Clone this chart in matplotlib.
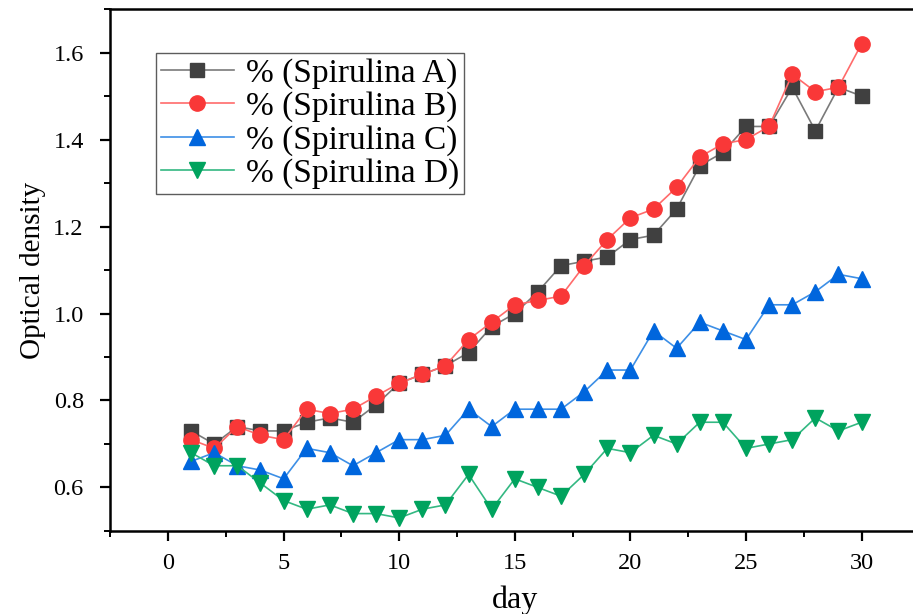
import numpy as np
import matplotlib.pyplot as plt
from matplotlib.ticker import MultipleLocator

plt.rcParams['font.family'] = ['Liberation Serif', 'DejaVu Serif']

days = np.arange(1, 31)

# optical density
spir_a = [0.73, 0.70, 0.74, 0.73, 0.73, 0.75, 0.76, 0.75, 0.79, 0.84,
          0.86, 0.88, 0.91, 0.97, 1.00, 1.05, 1.11, 1.12, 1.13, 1.17,
          1.18, 1.24, 1.34, 1.37, 1.43, 1.43, 1.52, 1.42, 1.52, 1.50]
spir_b = [0.71, 0.69, 0.74, 0.72, 0.71, 0.78, 0.77, 0.78, 0.81, 0.84,
          0.86, 0.88, 0.94, 0.98, 1.02, 1.03, 1.04, 1.11, 1.17, 1.22,
          1.24, 1.29, 1.36, 1.39, 1.40, 1.43, 1.55, 1.51, 1.52, 1.62]
spir_c = [0.66, 0.68, 0.65, 0.64, 0.62, 0.69, 0.68, 0.65, 0.68, 0.71,
          0.71, 0.72, 0.78, 0.74, 0.78, 0.78, 0.78, 0.82, 0.87, 0.87,
          0.96, 0.92, 0.98, 0.96, 0.94, 1.02, 1.02, 1.05, 1.09, 1.08]
spir_d = [0.68, 0.65, 0.65, 0.61, 0.57, 0.55, 0.56, 0.54, 0.54, 0.53,
          0.55, 0.56, 0.63, 0.55, 0.62, 0.60, 0.58, 0.63, 0.69, 0.68,
          0.72, 0.70, 0.75, 0.75, 0.69, 0.70, 0.71, 0.76, 0.73, 0.75]

labels = ['% (Spirulina A)', '% (Spirulina B)', '% (Spirulina C)', '% (Spirulina D)']

fig = plt.figure(figsize=(9.13, 6.14), dpi=100)
ax = fig.add_axes([0.1207, 0.1352, 0.8863, 0.8501])

# marker colour / line colour / marker / size
ax.plot(days, spir_a, '-', color='#7a7a7a', lw=1.2, marker='s', ms=9.5,
        mfc='#404040', mec='#404040', label=labels[0])
ax.plot(days, spir_b, '-', color='#ff6b6b', lw=1.2, marker='o', ms=11,
        mfc='#f93838', mec='#f93838', label=labels[1])
ax.plot(days, spir_c, '-', color='#3d8fe6', lw=1.2, marker='^', ms=12,
        mfc='#0066dd', mec='#0066dd', label=labels[2])
ax.plot(days, spir_d, '-', color='#33b882', lw=1.2, marker='v', ms=12,
        mfc='#00a35e', mec='#00a35e', label=labels[3])

ax.set_xlim(-2.5, 32.5)
ax.set_ylim(0.5, 1.7)
ax.xaxis.set_major_locator(MultipleLocator(5))
ax.xaxis.set_minor_locator(MultipleLocator(2.5))
ax.yaxis.set_minor_locator(MultipleLocator(0.1))
ax.set_yticks([0.6, 0.8, 1.0, 1.2, 1.4, 1.6])
ax.set_yticklabels(['0.6', '0.8', '1.0', '1.2', '1.4', '1.6'])

ax.tick_params(which='major', direction='out', length=7, width=1.6,
               labelsize=17.5)
ax.tick_params(axis='y', which='major', pad=12)
ax.tick_params(axis='x', which='major', pad=9)
ax.tick_params(which='minor', direction='out', length=4, width=1.4)
for s in ax.spines.values():
    s.set_linewidth(1.8)

ax.set_xlabel('day', fontsize=23, labelpad=8)
ax.set_ylabel('Optical density', fontsize=21, labelpad=5)

leg = ax.legend(loc='upper left', bbox_to_anchor=(0.056, 0.916), fontsize=24,
                frameon=True, fancybox=False, handlelength=2.2,
                borderpad=0.15, labelspacing=0.08, handletextpad=0.35,
                borderaxespad=0)
leg.get_frame().set_edgecolor('#333333')
leg.get_frame().set_linewidth(1.0)

fig.savefig('out.png', dpi=100)
